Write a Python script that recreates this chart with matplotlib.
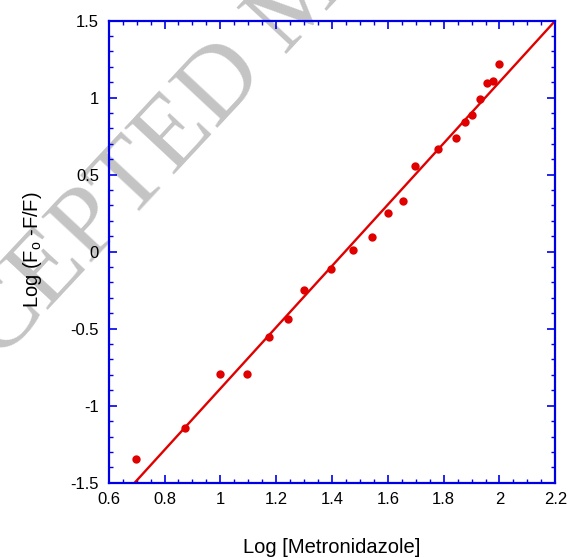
import matplotlib
matplotlib.use("Agg")
import matplotlib.pyplot as plt
import numpy as np
from matplotlib.ticker import MultipleLocator

plt.rcParams['font.family'] = ['Liberation Sans', 'DejaVu Sans']
plt.rcParams['mathtext.default'] = 'regular'

# Data
log_conc = [0.699, 0.875, 1.000, 1.097, 1.176, 1.243, 1.301, 1.398, 1.477, 1.544,
            1.602, 1.653, 1.699, 1.778, 1.845, 1.875, 1.903, 1.929, 1.954, 1.978, 2.000]
log_ratio = [-1.346, -1.145, -0.794, -0.794, -0.554, -0.437, -0.250, -0.114, 0.011, 0.093,
             0.249, 0.327, 0.555, 0.669, 0.736, 0.842, 0.890, 0.994, 1.097, 1.110, 1.219]
fit_slope = 1.991
fit_intercept = -2.880

x_ticks = [0.6, 0.8, 1.0, 1.2, 1.4, 1.6, 1.8, 2.0, 2.2]
x_ticklabels = ['0.6', '0.8', '1', '1.2', '1.4', '1.6', '1.8', '2', '2.2']
y_ticks = [-1.5, -1, -0.5, 0, 0.5, 1, 1.5]
y_ticklabels = ['-1.5', '-1', '-0.5', '0', '0.5', '1', '1.5']

fig = plt.figure(figsize=(5.69, 5.58), dpi=100)
ax = fig.add_axes([108.7/569, (558-482.7)/558, (555.3-108.7)/569, (482.7-20.7)/558])
ax.set_facecolor('none')

# watermark
fig.text(0.533, 1.0, 'ACCEPTED MANUSCRIPT', fontsize=75, color='#c4c4c4',
         family='Liberation Serif', rotation=47, ha='center', va='center',
         rotation_mode='anchor', zorder=-5)

xl = np.array([0.6, 2.2])
ax.plot(xl, fit_slope*xl + fit_intercept, color='#e00000', lw=1.7, zorder=2)
ax.plot(log_conc, log_ratio, 'o', color='#e00000', ms=6, mec='none', zorder=3)

ax.set_xlim(0.6, 2.2)
ax.set_ylim(-1.5, 1.5)
ax.set_xticks(x_ticks)
ax.set_xticklabels(x_ticklabels)
ax.set_yticks(y_ticks)
ax.set_yticklabels(y_ticklabels)
ax.xaxis.set_minor_locator(MultipleLocator(0.05))
ax.yaxis.set_minor_locator(MultipleLocator(0.1))

blue = '#0000e6'
for s in ax.spines.values():
    s.set_color(blue)
    s.set_linewidth(1.6)
ax.tick_params(which='both', direction='in', top=True, right=True, color=blue,
               labelsize=12, labelcolor='black')
ax.tick_params(which='major', length=6, width=1.2, pad=7)
ax.tick_params(which='minor', length=3, width=1.0)

ax.set_xlabel('Log [Metronidazole]', fontsize=14.5)
ax.xaxis.set_label_coords(0.5, -0.12)
ax.set_ylabel('Log (F$_{o}$ -F/F)', fontsize=14.5)
ax.yaxis.set_label_coords(-0.145, 0.505)

fig.savefig('out.png', dpi=100)
